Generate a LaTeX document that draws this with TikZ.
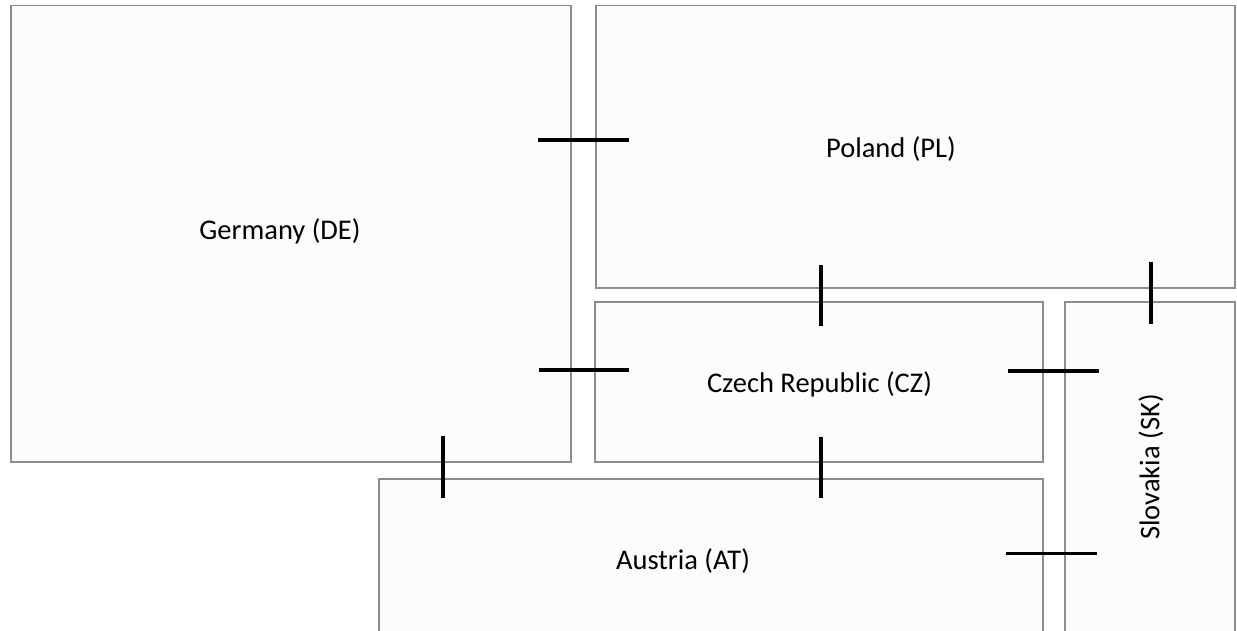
\documentclass[tikz,border=0pt]{standalone}
\usepackage{fontspec}
\setmainfont{Carlito}
\definecolor{boxline}{RGB}{140,140,140}
\definecolor{boxfill}{RGB}{252,252,252}
\begin{document}
\begin{tikzpicture}[x=1pt,y=-1pt,
  country/.style={draw=boxline,fill=boxfill,line width=1.5pt,rectangle,inner sep=0pt,anchor=north west},
  lbl/.style={font=\fontsize{28.5}{32}\selectfont,text=black,inner sep=0pt},
  tick/.style={line width=3.2pt,black}]
\useasboundingbox (0,0) rectangle (1237,631);
\fill[white] (0,0) rectangle (1237,631);
\clip (0,0) rectangle (1237,631);
% boxes
\node[country,minimum width=560pt,minimum height=456pt] (de) at (10,5) {};
\node[country,minimum width=639pt,minimum height=282pt] (pl) at (595,5) {};
\node[country,minimum width=448pt,minimum height=160pt] (cz) at (594,301) {};
\node[country,minimum width=664pt,minimum height=170pt] (at) at (378,478) {};
\node[country,minimum width=170pt,minimum height=345pt] (sk) at (1064,301) {};
% labels
\node[lbl] (tde) at (280,231) {Germany (DE)};
\node[lbl] (tpl) at (891,149) {Poland (PL)};
\node[lbl] (tcz) at (819.5,384) {Czech Republic (CZ)};
\node[lbl] (tat) at (683,561) {Austria (AT)};
\node[lbl,rotate=90] (tsk) at (1151,467) {Slovakia (SK)};
% tick coordinates
\coordinate (a1) at (538,140); \coordinate (a2) at (629,140);
\coordinate (b1) at (539,370); \coordinate (b2) at (629,370);
\coordinate (c1) at (821,265); \coordinate (c2) at (821,326);
\coordinate (d1) at (1151,262); \coordinate (d2) at (1151,324);
\coordinate (e1) at (1008,371); \coordinate (e2) at (1099,371);
\coordinate (f1) at (443,436); \coordinate (f2) at (443,498);
\coordinate (g1) at (821,437); \coordinate (g2) at (821,498);
\coordinate (h1) at (1006,553.5); \coordinate (h2) at (1097,553.5);
\foreach \p in {a,b,c,d,e,f,g,h} \draw[tick] (\p1) -- (\p2);
\end{tikzpicture}
\end{document}
